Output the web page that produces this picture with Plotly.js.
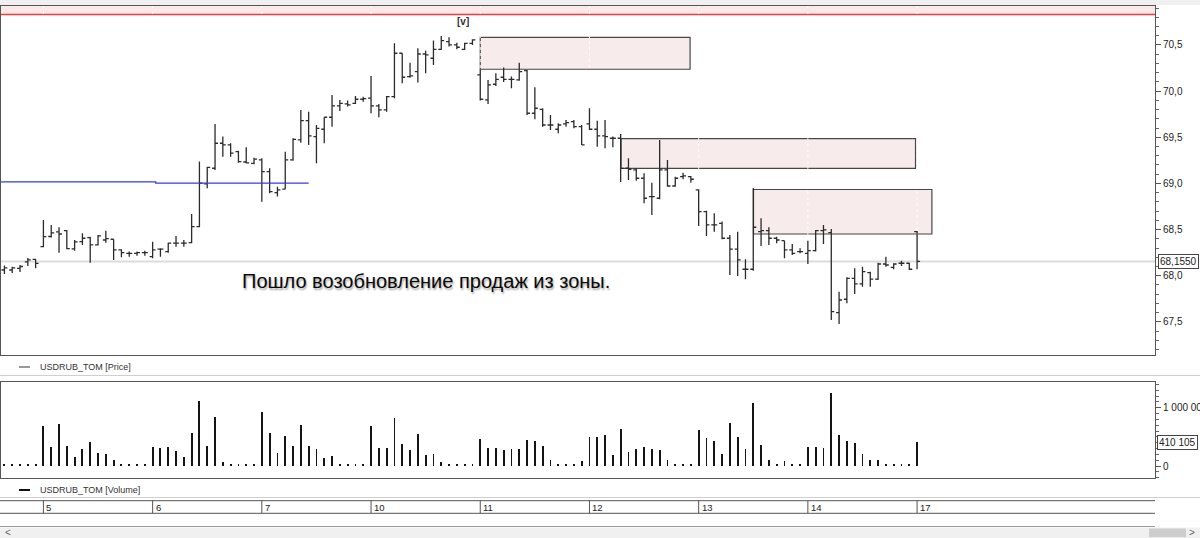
<!DOCTYPE html>
<html><head><meta charset="utf-8">
<script src="https://cdn.plot.ly/plotly-3.0.1.min.js"></script>
<style>html,body{margin:0;padding:0;background:#fff;overflow:hidden}#chart{width:1200px;height:538px}</style>
</head><body><div id="chart"></div>
<script>
// ---- data (hourly bars USDRUB_TOM) ----
const openP = [68.062,68.062,68.079,68.149,68.176, 68.315,68.425,68.474,68.488,68.290,68.369,68.412,68.333,68.387,68.395,68.279,68.243,68.243,68.250,
 68.206,68.287,68.261,68.352,68.352,68.358,68.531,68.994,69.164,69.435,69.417,69.344,69.232,69.218,
 69.254,69.127,68.900,68.937,69.254,69.471,69.680,69.507,69.587,69.717,69.839,69.861,69.868,69.912,
 69.923,69.839,69.796,69.940,70.410,70.157,70.211,70.402,70.356,70.453,70.536,70.500,70.453,70.518,
 70.175,69.904,70.074,70.150,70.128,70.121,70.222,69.760,69.803,69.633,69.587,69.644,69.669,69.615,
 69.644,69.587,69.514,69.489,69.489,69.164,69.146,69.056,68.856,68.839,69.146,68.972,69.073,69.073,
 68.929,68.694,68.550,68.568,68.406,68.287,68.070,68.070,68.477,68.488,68.406,68.380,68.279,68.261,
 68.243,68.271,68.488,68.466,67.600,67.745,67.972,67.911,68.033,67.962,68.127,68.091,68.135,68.135,
 68.477];
const highP = [68.111,68.098,68.117,68.192,68.181, 68.604,68.550,68.525,68.496,68.387,68.460,68.423,68.441,68.488,68.395,68.287,68.261,68.261,68.271,
 68.369,68.297,68.358,68.431,68.387,68.669,69.236,69.181,69.644,69.507,69.435,69.355,69.392,69.279,
 69.272,69.164,68.965,69.344,69.489,69.796,69.777,69.633,69.717,69.958,69.904,69.897,69.947,69.940,
 70.164,69.861,69.947,70.518,70.410,70.308,70.464,70.438,70.547,70.597,70.583,70.525,70.525,70.562,
 70.235,70.121,70.193,70.256,70.157,70.308,70.229,70.042,69.814,69.742,69.652,69.687,69.687,69.633,
 69.814,69.680,69.687,69.507,69.536,69.272,69.164,69.110,69.008,69.471,69.254,69.073,69.116,69.081,
 68.937,68.705,68.677,68.586,68.441,68.477,68.178,68.951,68.622,68.525,68.423,68.380,68.344,68.297,
 68.380,68.496,68.550,68.506,67.827,67.983,68.081,68.098,68.044,68.141,68.206,68.135,68.163,68.141,
 68.485];
const lowP = [68.019,68.030,68.041,68.106,68.081, 68.308,68.414,68.250,68.287,68.271,68.333,68.141,68.326,68.358,68.171,68.200,68.206,68.217,68.217,
 68.189,68.206,68.250,68.315,68.315,68.352,68.525,68.947,69.146,69.290,69.290,69.225,69.218,69.207,
 68.802,68.893,68.857,68.937,69.246,69.441,69.417,69.218,69.435,69.615,69.785,69.832,69.861,69.886,
 69.760,69.717,69.777,69.923,70.085,70.146,70.092,70.193,70.283,70.446,70.482,70.453,70.446,70.500,
 69.897,69.861,70.056,70.099,70.031,70.113,69.742,69.695,69.615,69.579,69.543,69.615,69.597,69.417,
 69.579,69.398,69.381,69.392,69.016,69.037,69.030,68.785,68.658,68.828,68.965,68.965,69.045,69.008,
 68.539,68.431,68.477,68.395,68.008,67.997,67.962,68.055,68.322,68.333,68.352,68.189,68.225,68.243,
 68.127,68.261,68.344,67.521,67.477,67.702,67.802,67.881,67.881,67.954,68.098,68.070,68.106,68.062,
 68.070];
const closeP = [68.084,68.084,68.100,68.171,68.133, 68.423,68.463,68.452,68.293,68.366,68.406,68.333,68.431,68.401,68.279,68.250,68.243,68.250,68.250,
 68.279,68.287,68.352,68.352,68.352,68.531,69.002,69.173,69.435,69.417,69.327,69.236,69.222,69.262,
 69.127,68.911,68.929,69.254,69.478,69.680,69.514,69.597,69.717,69.839,69.868,69.850,69.912,69.918,
 69.839,69.796,69.940,70.410,70.150,70.164,70.402,70.392,70.453,70.547,70.500,70.475,70.518,70.554,
 69.912,70.067,70.128,70.128,70.128,70.211,69.760,69.814,69.633,69.633,69.633,69.658,69.615,69.417,
 69.587,69.514,69.507,69.489,69.162,69.153,69.056,68.839,68.856,69.146,68.972,69.056,69.081,69.045,
 68.694,68.550,68.550,68.406,68.287,68.171,68.070,68.525,68.488,68.406,68.387,68.279,68.243,68.261,
 68.271,68.488,68.496,67.611,67.737,67.972,67.911,68.044,67.962,68.127,68.116,68.127,68.135,68.070,
 68.155];
const volume = [35000,35000,35000,35000,35000,
 690000,320000,720000,350000,160000,300000,420000,230000,210000,100000,35000,35000,35000,35000,
 320000,310000,330000,260000,160000,560000,1110000,340000,840000,70000,35000,35000,35000,35000,
 920000,570000,220000,510000,340000,710000,340000,290000,140000,180000,35000,35000,35000,35000,
 690000,310000,310000,820000,370000,270000,550000,190000,210000,70000,35000,35000,35000,35000,
 470000,310000,310000,280000,300000,300000,440000,430000,340000,100000,35000,35000,35000,80000,
 490000,490000,530000,190000,630000,240000,300000,330000,300000,270000,110000,35000,35000,35000,
 610000,480000,430000,210000,730000,500000,300000,1080000,360000,100000,35000,90000,35000,35000,
 330000,330000,310000,1250000,530000,430000,390000,210000,100000,100000,35000,35000,35000,35000,
 410105];
const dayLabels = ['5','6','7','10','11','12','13','14','17'];
const dayStartBar = [5,19,33,47,61,75,89,103,117];
// supply zones (bar index from/to, price low/high)
const zoneFrom = [61.0, 79.05, 96.03];
const zoneTo   = [87.9, 116.8, 118.9];
const zoneLow  = [70.237, 69.162, 68.452];
const zoneHigh = [70.583, 69.485, 68.934];
const redLevel = 70.83;
const blueLevelX = [-0.45, 19.4, 19.4, 39.0];
const blueLevelY = [69.016, 69.016, 69.002, 69.002];
const lastPrice = closeP[closeP.length-1];
const lastVolume = volume[volume.length-1];
const priceTicks = [67.5,68.0,68.5,69.0,69.5,70.0,70.5];
const volumeTicks = [0,500000,1000000];
const volumeTickText = ['0','','1 000 000']; // 500 000 is hidden behind the last-volume box

const barNo = openP.map((_, i) => i);
const H = 538, W = 1200;
const py = v => 1 - v / H;       // pixel row -> paper y
const XR = [-0.443, 147.5];
const xEnd = 1155 / W;
const font = 'Liberation Sans, Arial, sans-serif';

const traces = [
  {type:'ohlc', x:barNo, open:openP, high:highP, low:lowP, close:closeP, xaxis:'x', yaxis:'y',
   increasing:{line:{color:'#2b2b2b', width:1.3}}, decreasing:{line:{color:'#2b2b2b', width:1.3}},
   tickwidth:0.38, hoverinfo:'skip'},
  {type:'scatter', mode:'lines', x:blueLevelX, y:blueLevelY, xaxis:'x', yaxis:'y',
   line:{color:'#3a3ad8', width:1.2}, hoverinfo:'skip'},
  {type:'bar', x:barNo, y:volume, xaxis:'x2', yaxis:'y2', width:0.24,
   marker:{color:'#141414', line:{width:0}}, hoverinfo:'skip'}
];

const shapes = [];
shapes.push({type:'rect', xref:'paper', yref:'paper', x0:0, x1:1, y0:py(5), y1:1, fillcolor:'#f0f0f0', line:{width:0}, layer:'below'});
shapes.push({type:'rect', xref:'x', yref:'y', x0:XR[0], x1:XR[1], y0:redLevel, y1:71.2, fillcolor:'#fbe8e8', line:{width:0}, layer:'below'});
shapes.push({type:'line', xref:'x', yref:'y', x0:XR[0], x1:XR[1], y0:redLevel, y1:redLevel, line:{color:'#ef3b3b', width:1.6}, layer:'below'});
for (let k = 0; k < zoneFrom.length; k++) {
  shapes.push({type:'rect', xref:'x', yref:'y', x0:zoneFrom[k], x1:zoneTo[k], y0:zoneLow[k], y1:zoneHigh[k],
    fillcolor:'#f8ebeb', line:{color:'#474747', width:1.2}, layer:'below'});
}
dayStartBar.forEach(b => shapes.push({type:'line', xref:'x', yref:'y', x0:b, x1:b, y0:67, y1:71.2,
  line:{color:'rgba(255,255,255,0.9)', width:1, dash:'dot'}, layer:'below'}));
shapes.push({type:'line', xref:'x', yref:'y', x0:XR[0], x1:XR[1], y0:lastPrice, y1:lastPrice, line:{color:'#dcdcdc', width:2}, layer:'below'});
shapes.push({type:'line', xref:'paper', yref:'paper', x0:0, x1:1, y0:py(375.5), y1:py(375.5), line:{color:'#cfcfcf', width:1}});
shapes.push({type:'line', xref:'paper', yref:'paper', x0:0, x1:1, y0:py(497.5), y1:py(497.5), line:{color:'#cfcfcf', width:1}});
shapes.push({type:'line', xref:'paper', yref:'paper', x0:0, x1:xEnd, y0:py(500.7), y1:py(500.7), line:{color:'#555', width:1}});
shapes.push({type:'line', xref:'paper', yref:'paper', x0:0, x1:xEnd, y0:py(513.3), y1:py(513.3), line:{color:'#555', width:1}});
shapes.push({type:'line', xref:'paper', yref:'paper', x0:0, x1:xEnd, y0:py(526.5), y1:py(526.5), line:{color:'#9a9a9a', width:1}});
dayStartBar.forEach(b => shapes.push({type:'line', xref:'x', yref:'paper', x0:b, x1:b, y0:py(513.3), y1:py(500.7), line:{color:'#555', width:1}}));
shapes.push({type:'rect', xref:'paper', yref:'paper', x0:0, x1:1, y0:0, y1:py(527.5), fillcolor:'#f0f0f0', line:{width:0}});
shapes.push({type:'rect', xref:'paper', yref:'paper', x0:1149/W, x1:1186/W, y0:py(537), y1:py(528.5), fillcolor:'#cdcdcd', line:{width:0}});
shapes.push({type:'line', xref:'paper', yref:'paper', x0:19/W, x1:30/W, y0:py(367), y1:py(367), line:{color:'#333', width:1}});
shapes.push({type:'line', xref:'paper', yref:'paper', x0:19/W, x1:30/W, y0:py(490), y1:py(490), line:{color:'#111', width:2}});

const annotations = [
  {xref:'paper', yref:'y', x:426/W, y:67.943, xanchor:'center', yanchor:'middle', showarrow:false,
   text:'Пошло возобновление продаж из зоны.',
   font:{family:'Liberation Sans, Arial, sans-serif', size:20, color:'#0a0a0a', shadow:'1px 2px 2px rgba(0,0,0,0.35)'}},
  {xref:'x', yref:'y', x:58.85, y:70.75, showarrow:false, text:'<b>[v]</b>', xanchor:'center', yanchor:'middle',
   font:{family:font, size:10, color:'#333'}},
  {xref:'paper', yref:'y', x:1158/W, y:lastPrice, xanchor:'left', yanchor:'middle', showarrow:false,
   text:String(lastPrice.toFixed(4)).replace('.', ','), bgcolor:'#fff', bordercolor:'#444', borderwidth:1, borderpad:1,
   font:{family:font, size:10, color:'#222'}},
  {xref:'paper', yref:'y2', x:1157/W, y:lastVolume, xanchor:'left', yanchor:'middle', showarrow:false,
   text:lastVolume.toLocaleString('ru-RU').replace(/\u00a0/g, ' '), bgcolor:'#fff', bordercolor:'#444', borderwidth:1, borderpad:1,
   font:{family:font, size:10, color:'#222'}},
  {xref:'paper', yref:'paper', x:38/W, y:py(367), xanchor:'left', yanchor:'middle', showarrow:false,
   text:'USDRUB_TOM [Price]', font:{family:font, size:9, color:'#333'}},
  {xref:'paper', yref:'paper', x:38/W, y:py(490), xanchor:'left', yanchor:'middle', showarrow:false,
   text:'USDRUB_TOM [Volume]', font:{family:font, size:9, color:'#333'}},
  {xref:'paper', yref:'paper', x:3/W, y:py(532.5), xanchor:'left', yanchor:'middle', showarrow:false,
   text:'<', font:{family:font, size:10, color:'#666'}},
  {xref:'paper', yref:'paper', x:1197/W, y:py(532.5), xanchor:'right', yanchor:'middle', showarrow:false,
   text:'>', font:{family:font, size:10, color:'#666'}}
];
dayLabels.forEach((lab, k) => annotations.push({xref:'x', yref:'paper', x:dayStartBar[k], y:py(507), xanchor:'left', yanchor:'middle',
  xshift:1, showarrow:false, text:lab, font:{family:font, size:9.5, color:'#222'}}));

const axX = {range:XR, showticklabels:false, showgrid:false, zeroline:false, showline:true, mirror:true,
  linecolor:'#555', linewidth:1, ticks:'', fixedrange:true};
const layout = {
  width:W, height:H, margin:{l:0, r:0, t:0, b:0}, paper_bgcolor:'#fff', plot_bgcolor:'rgba(0,0,0,0)',
  separators:', ', showlegend:false, dragmode:false, bargap:0,
  xaxis:Object.assign({}, axX, {domain:[0.0008, xEnd], anchor:'y', rangeslider:{visible:false}}),
  yaxis:{domain:[py(355), py(6)], range:[67.141, 70.922], side:'right', anchor:'x', showgrid:false, zeroline:false,
    showline:true, mirror:true, linecolor:'#555', linewidth:1,
    tickmode:'array', tickvals:priceTicks, tickformat:'.1f', ticks:'outside', ticklen:5, tickcolor:'#555',
    tickfont:{family:font, size:10, color:'#222'},
    minor:{tickmode:'linear', tick0:0, dtick:0.1, ticks:'outside', ticklen:3, tickcolor:'#666', showgrid:false}},
  xaxis2:Object.assign({}, axX, {domain:[0.0008, xEnd], anchor:'y2'}),
  yaxis2:{domain:[py(478), py(382)], range:[-205800, 1440800], side:'right', anchor:'x2', showgrid:false, zeroline:false,
    showline:true, mirror:true, linecolor:'#555', linewidth:1,
    tickmode:'array', tickvals:volumeTicks, ticktext:volumeTickText, ticks:'outside', ticklen:5, tickcolor:'#555',
    tickfont:{family:font, size:10, color:'#222'},
    minor:{tickmode:'linear', tick0:0, dtick:100000, ticks:'outside', ticklen:3, tickcolor:'#666', showgrid:false}},
  shapes:shapes, annotations:annotations
};
Plotly.newPlot('chart', traces, layout, {staticPlot:true, displayModeBar:false});
</script></body></html>
